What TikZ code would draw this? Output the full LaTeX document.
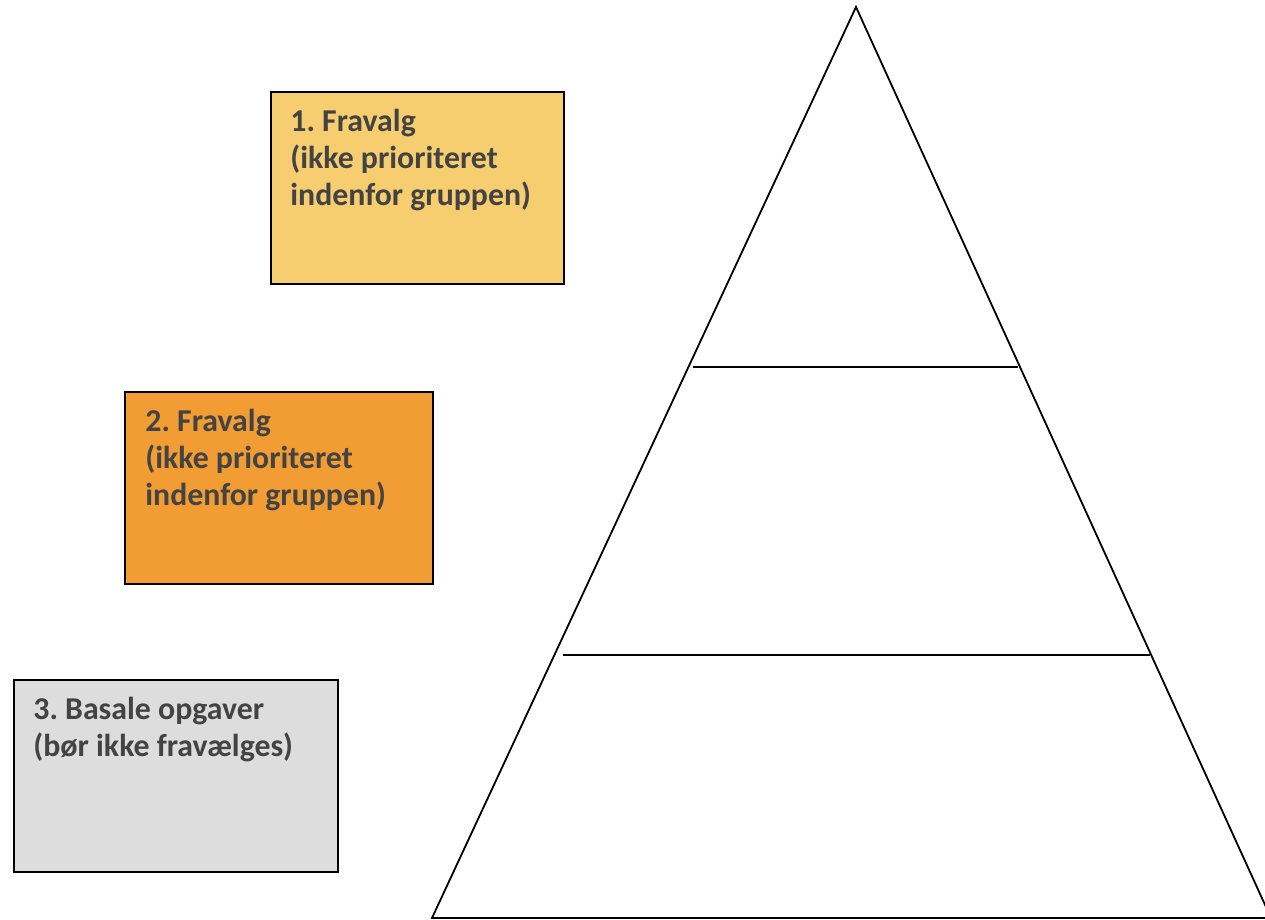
\documentclass[tikz,border=0pt]{standalone}
\usepackage{fontspec}
\setmainfont{Carlito}
\usepackage{tikz}
\usetikzlibrary{positioning, calc}

\definecolor{goldbox}{HTML}{F6CE70}
\definecolor{orangebox}{HTML}{F29D33}
\definecolor{greybox}{HTML}{DDDDDD}
\definecolor{boxtext}{HTML}{434343}

\frenchspacing

\begin{document}
\begin{tikzpicture}[
    x=0.5pt, y=-0.5pt,
    box/.style={rectangle, draw=black, line width=1pt, anchor=north west, inner sep=0pt},
    boxtxt/.style={anchor=north west, inner sep=0pt, align=left, text=boxtext,
        font=\fontsize{15.9pt}{18.5pt}\selectfont\bfseries},
    pyr/.style={line width=0.9pt, line join=miter}
]
\useasboundingbox (0,0) rectangle (1265,920);

% --- Boksene til venstre ---
\node[box, fill=goldbox, minimum width=146.5pt, minimum height=96pt] (box1) at (270,91) {};
\node[boxtxt] (txt1) at (290,109)
    {1. Fravalg\\(ikke prioriteret\\indenfor gruppen)};

\node[box, fill=orangebox, minimum width=154pt, minimum height=96pt] (box2) at (124,391) {};
\node[boxtxt] (txt2) at (145,409)
    {2. Fravalg\\(ikke prioriteret\\indenfor gruppen)};

\node[box, fill=greybox, minimum width=162pt, minimum height=96pt] (box3) at (13,679) {};
\node[boxtxt] (txt3) at (33,697)
    {3. Basale opgaver\\(bør ikke fravælges)};

% --- Pyramiden ---
\coordinate (top) at (856,7);
\coordinate (bl) at (432,918);
\coordinate (br) at (1271,918);
\draw[pyr] (bl) -- (top) -- (br) -- cycle;

\coordinate (l1a) at (693,367);
\coordinate (l1b) at (1018,367);
\coordinate (l2a) at (563,655);
\coordinate (l2b) at (1150,655);
\draw[pyr] (l1a) -- (l1b);
\draw[pyr] (l2a) -- (l2b);

\end{tikzpicture}
\end{document}
